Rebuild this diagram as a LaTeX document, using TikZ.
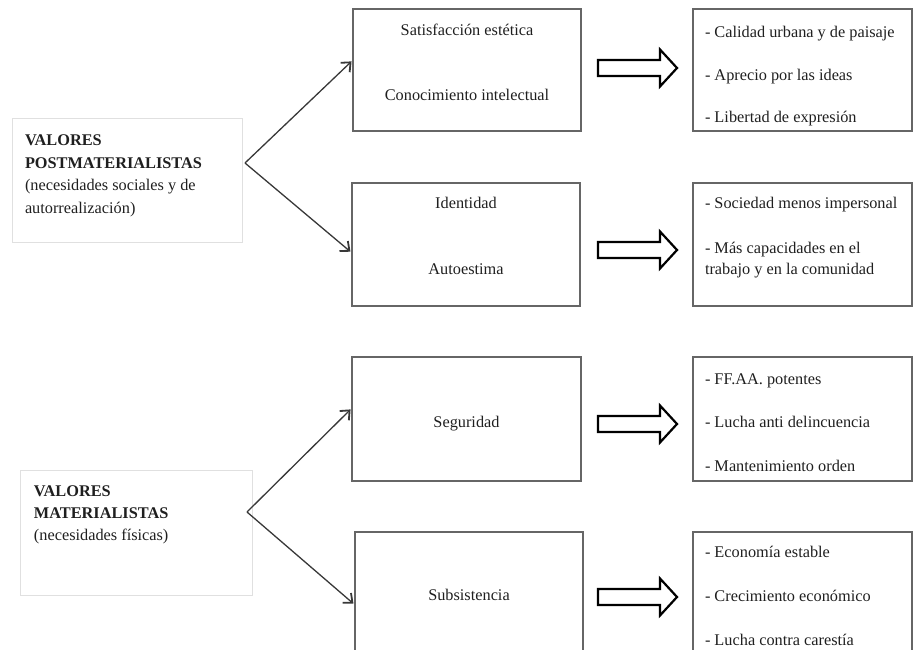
\documentclass[tikz,border=0pt]{standalone}
\usepackage{fontspec}
\setmainfont{Liberation Serif}
\usetikzlibrary{arrows.meta}
\begin{document}
\begin{tikzpicture}[x=1pt,y=-1pt,
  every node/.style={font=\fontsize{16.3}{22.5}\selectfont, text=black!88, inner sep=0pt, outer sep=0pt},
  framebox/.style={draw=black!60, line width=1.3pt, rectangle},
  softbox/.style={draw=black!12, line width=0.8pt, rectangle},
  ctext/.style={anchor=base},
  ltext/.style={anchor=base west},
  conn/.style={draw=black!78, line width=1.3pt, shorten >=2pt,
    -{Straight Barb[length=7.5pt,width=13pt,line width=1.8pt]}},
  blockarr/.style={draw=black, fill=white, line width=2.2pt, line join=miter}
]
\useasboundingbox (0,0) rectangle (913,650);
\clip (0,0) rectangle (913,650);

% ---- Value groups (left) ----
\node[softbox, minimum width=230pt, minimum height=124pt] (l1) at (127,180) {};
\node[ltext] (l1a) at (25,145.5) {\bfseries VALORES};
\node[ltext] (l1b) at (25,168) {\bfseries POSTMATERIALISTAS};
\node[ltext] (l1c) at (25,190.5) {(necesidades sociales y de};
\node[ltext] (l1d) at (25,213) {autorrealización)};

\node[softbox, minimum width=232pt, minimum height=125pt] (l2) at (136,532.5) {};
\node[ltext] (l2a) at (34,496.5) {\bfseries VALORES};
\node[ltext] (l2b) at (34,518.5) {\bfseries MATERIALISTAS};
\node[ltext] (l2c) at (34,540.5) {(necesidades físicas)};

% ---- Needs (middle column) ----
\node[framebox, minimum width=228pt, minimum height=122pt] (m1) at (467,70) {};
\node[ctext] (m1a) at (467,35.5) {Satisfacción estética};
\node[ctext] (m1b) at (467,100.5) {Conocimiento intelectual};

\node[framebox, minimum width=228pt, minimum height=123pt] (m2) at (466,244.5) {};
\node[ctext] (m2a) at (466,208.5) {Identidad};
\node[ctext] (m2b) at (466,274.5) {Autoestima};

\node[framebox, minimum width=229pt, minimum height=124pt] (m3) at (466.5,419) {};
\node[ctext] (m3a) at (466.5,427.5) {Seguridad};

\node[framebox, minimum width=228pt, minimum height=124pt] (m4) at (469,594) {};
\node[ctext] (m4a) at (469,600.5) {Subsistencia};

% ---- Goals (right column) ----
\node[framebox, minimum width=219pt, minimum height=122pt] (r1) at (802.5,70) {};
\node[ltext] (r1a) at (705,37.5) {- Calidad urbana y de paisaje};
\node[ltext] (r1b) at (705,80.5) {- Aprecio por las ideas};
\node[ltext] (r1c) at (705,122.5) {- Libertad de expresión};

\node[framebox, minimum width=219pt, minimum height=123pt] (r2) at (802.5,244.5) {};
\node[ltext] (r2a) at (705,208.5) {- Sociedad menos impersonal};
\node[ltext] (r2b) at (705,253.5) {- Más capacidades en el};
\node[ltext] (r2c) at (705,274.5) {trabajo y en la comunidad};

\node[framebox, minimum width=219pt, minimum height=124pt] (r3) at (802.5,419) {};
\node[ltext] (r3a) at (705,384.5) {- FF.AA. potentes};
\node[ltext] (r3b) at (705,427.5) {- Lucha anti delincuencia};
\node[ltext] (r3c) at (705,471.5) {- Mantenimiento orden};

\node[framebox, minimum width=219pt, minimum height=124pt] (r4) at (802.5,594) {};
\node[ltext] (r4a) at (705,557.5) {- Economía estable};
\node[ltext] (r4b) at (705,601.5) {- Crecimiento económico};
\node[ltext] (r4c) at (705,645.5) {- Lucha contra carestía};

% ---- Branching connectors ----
\coordinate (p1) at (245,163);
\coordinate (p2) at (247,512);
\draw[conn] (p1) -- ([yshift=10pt]m1.west);
\draw[conn] (p1) -- ([yshift=-8.5pt]m2.west);
\draw[conn] (p2) -- ([yshift=11pt]m3.west);
\draw[conn] (p2) -- ([yshift=-11pt]m4.west);

% ---- Block arrows between columns ----
\coordinate (a1) at (598,68);
\coordinate (a2) at (598,250);
\coordinate (a3) at (598,424);
\coordinate (a4) at (598,597);
\foreach \a in {a1,a2,a3,a4}{
  \draw[blockarr] (\a) ++(0,-8) -- ++(62,0) -- ++(0,-10.5) -- ++(17,18.5)
    -- ++(-17,18.5) -- ++(0,-10.5) -- ++(-62,0) -- cycle;
}
\end{tikzpicture}
\end{document}
